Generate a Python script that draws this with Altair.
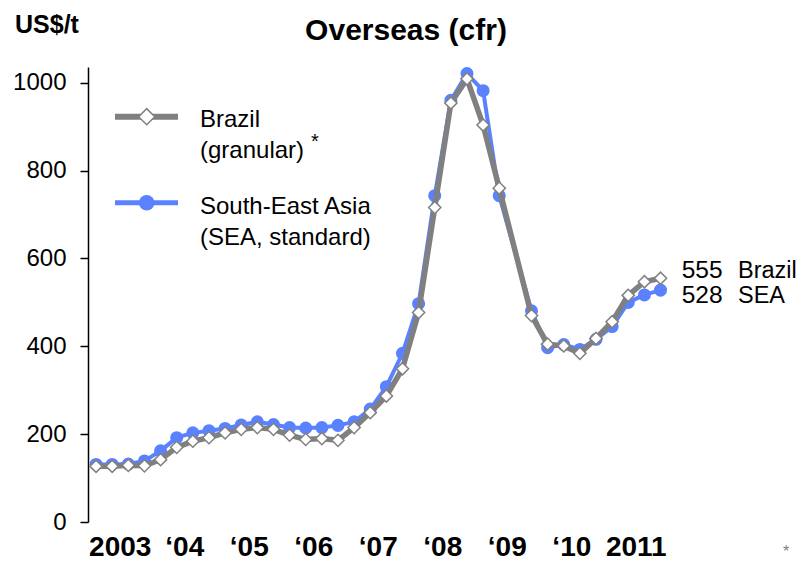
import altair as alt
import pandas as pd

# ---------------- data ----------------
years = list(range(2003, 2012))
quarters = [1, 2, 3, 4]
year_labels = ["2003", "\u201804", "\u201805", "\u201806", "\u201807", "\u201808", "\u201809", "\u201810", "2011"]

brazil = [127, 127, 129, 128, 142, 170, 184, 192, 203, 211, 215, 211,
          198, 188, 190, 186, 215, 249, 287, 349, 477, 716, 954, 1009,
          904, 760, None, 470, 405, 401, 384, 418, 456, 516, 547, 555]
sea = [131, 131, 132, 139, 162, 192, 203, 208, 213, 221, 228, 222,
       215, 214, 215, 220, 228, 257, 308, 384, 497, 743, 960, 1021,
       982, 743, None, 481, 397, 404, 393, 416, 445, 500, 517, 528]

end_values = [555, 528]
end_names = ["Brazil", "SEA"]

title_text = "Overseas (cfr)"
unit_text = "US$/t"

GRAY = "#808080"
BLUE = "#5A82FF"
FONT = "Liberation Sans"

pos = [y + (q - 1) / 4 + 0.125 for y in years for q in quarters]
df_br = pd.DataFrame({"t": pos, "v": brazil}).dropna()
df_sea = pd.DataFrame({"t": pos, "v": sea}).dropna()
df_lab = pd.DataFrame({"t": [y + 0.5 for y in years], "lab": year_labels})

W, H = 598, 455

xs = alt.Scale(domain=[2003, 2012.27], nice=False, zero=False)
ys = alt.Scale(domain=[0, 1036], nice=False, zero=True)
X = alt.X("t:Q", scale=xs, axis=alt.Axis(values=list(range(2003, 2013)), labels=False, title=None,
                                          grid=False, tickSize=7, tickColor="black", domainColor="black",
                                          tickWidth=1.5, domainWidth=1.5))
Y = alt.Y("v:Q", scale=ys, axis=alt.Axis(values=[0, 200, 400, 600, 800, 1000], format="d", title=None,
                                          grid=False, tickSize=8, tickColor="black", domainColor="black",
                                          tickWidth=1.5, domainWidth=1.5,
                                          labelFontSize=24, labelFont=FONT, labelColor="black",
                                          labelPadding=14, labelFlush=False, labelOverlap=False))

sea_line = alt.Chart(df_sea).mark_line(color=BLUE, strokeWidth=4).encode(x=X, y=Y)
sea_pts = alt.Chart(df_sea).mark_point(shape="circle", filled=True, color=BLUE, size=170, opacity=1).encode(x=X, y=Y)
br_line = alt.Chart(df_br).mark_line(color=GRAY, strokeWidth=5.5).encode(x=X, y=Y)
br_pts = alt.Chart(df_br).mark_point(shape="diamond", filled=True, fill="white", stroke=GRAY,
                                     strokeWidth=1.5, size=150, opacity=1).encode(x=X, y=Y)

xlabels = alt.Chart(df_lab).mark_text(fontSize=28, fontWeight="bold", font=FONT, color="black",
                                      align="center", baseline="alphabetic").encode(
    x=alt.X("t:Q", scale=xs, axis=None), y=alt.value(489), text="lab:N")


def ann(txt, x, y, size=24, weight="normal", align="left", color="black"):
    return alt.Chart(pd.DataFrame({"s": [txt]})).mark_text(
        fontSize=size, fontWeight=weight, font=FONT, color=color, align=align, baseline="alphabetic"
    ).encode(text="s:N", x=alt.value(x), y=alt.value(y))


def legend_line(y, color, width):
    return alt.Chart(pd.DataFrame({"a": [0]})).mark_rule(color=color, strokeWidth=width).encode(
        x=alt.value(27), x2=alt.value(90), y=alt.value(y))


leg_br_line = legend_line(49.7, GRAY, 6)
leg_br_pt = alt.Chart(pd.DataFrame({"a": [0]})).mark_point(
    shape="diamond", filled=True, fill="white", stroke=GRAY, strokeWidth=1.5, size=260, opacity=1
).encode(x=alt.value(58.7), y=alt.value(49.7))
leg_sea_line = legend_line(135.7, BLUE, 5)
leg_sea_pt = alt.Chart(pd.DataFrame({"a": [0]})).mark_point(
    shape="circle", filled=True, color=BLUE, size=240, opacity=1
).encode(x=alt.value(58.7), y=alt.value(135.7))

texts = [
    ann(title_text, 318, -27, size=30, weight="bold", align="center"),
    ann(unit_text, -73, -34, size=25, weight="bold"),
    ann("Brazil", 112, 60),
    ann("(granular)", 112, 91),
    ann("*", 223, 81, size=20),
    ann("South-East Asia", 112, 146.5),
    ann("(SEA, standard)", 112, 177.5),
    ann(str(end_values[0]), 593.7, 211.3, size=24.5),
    ann(end_names[0], 650, 211.3, size=23.5),
    ann(str(end_values[1]), 593.7, 236.3, size=24.5),
    ann(end_names[1], 650, 236.3, size=23.5),
    ann("*", 698, 490, size=16, align="center", color=GRAY),
]

chart = alt.layer(
    sea_line, sea_pts, br_line, br_pts, xlabels,
    leg_br_line, leg_br_pt, leg_sea_line, leg_sea_pt, *texts
).properties(
    width=W, height=H,
    autosize=alt.AutoSizeParams(type="none"),
    padding={"left": 80, "top": 59, "right": 113, "bottom": 41},
).configure_view(stroke=None)

chart.save("out.html", embed_options={"renderer": "svg", "actions": False})
